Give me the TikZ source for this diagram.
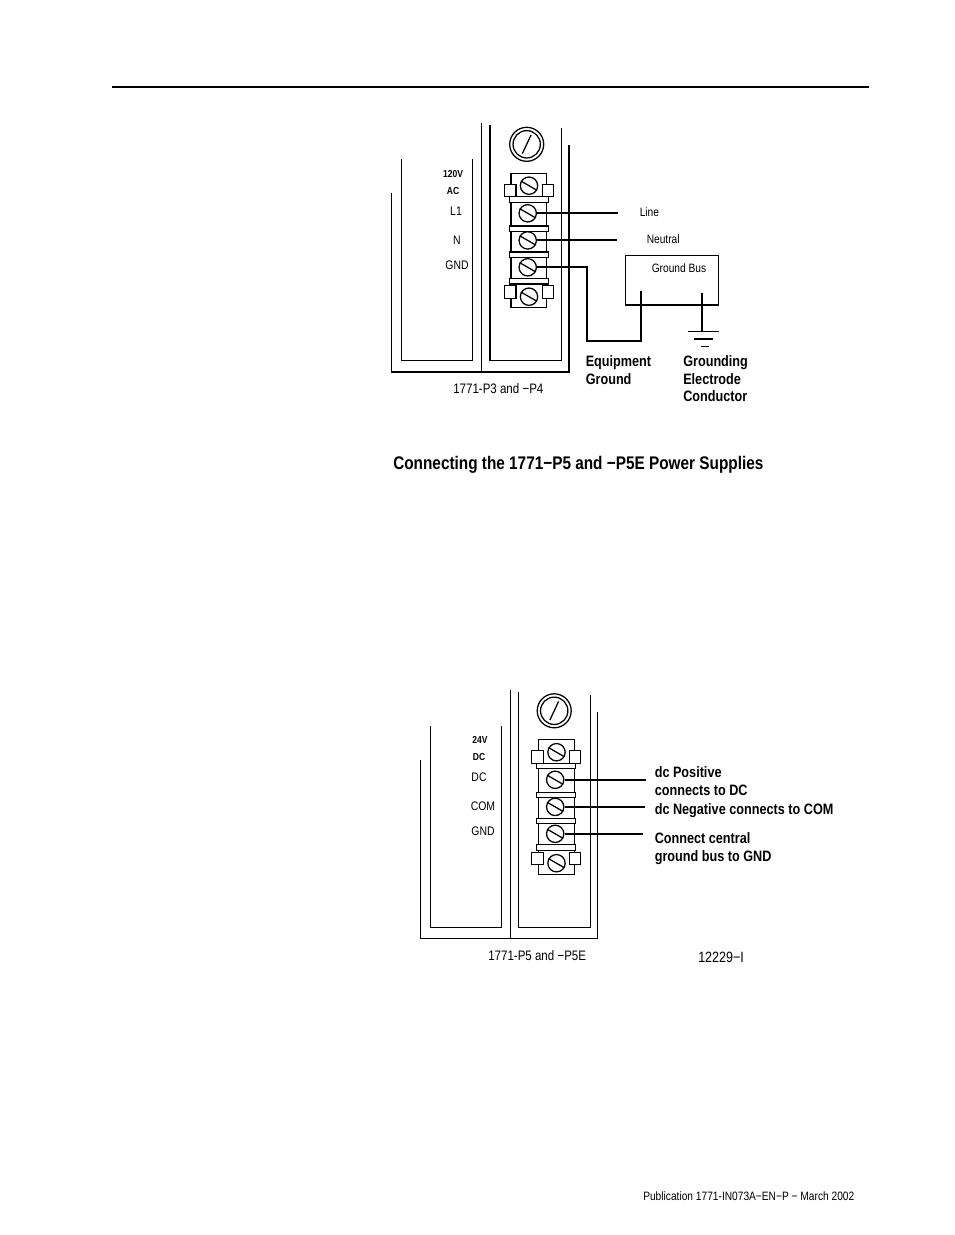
\documentclass[tikz,border=0pt]{standalone}
\usepackage{fontspec}
\setmainfont[FakeStretch=0.84]{Liberation Sans}
\usepackage{tikz}
\tikzset{
  frameline/.style={line width=0.95pt},
  wire/.style={line width=1.6pt},
  thinwire/.style={line width=1.3pt},
  screw/.style={circle,draw,line width=0.95pt,minimum size=13pt,inner sep=0pt},
  lbl/.style={anchor=west,inner sep=0pt,font=\fontsize{9.1}{11}\selectfont},
  lblc/.style={inner sep=0pt,font=\fontsize{9.3}{11}\selectfont},
  tiny/.style={inner sep=0pt,font=\bfseries\fontsize{7.6}{9}\selectfont},
  note/.style={anchor=north west,align=left,inner sep=0pt,font=\bfseries\fontsize{11.3}{13.1}\selectfont}
}
\begin{document}
\begin{tikzpicture}[x=0.75pt,y=-0.75pt]
\fill[white] (0,0) rectangle (954,1235);
\useasboundingbox (0,0) rectangle (954,1235);
\draw[line width=1.6pt] (112,87) -- (869,87);

% both supplies, second one is only shifted
\foreach \unit/\dx/\tx/\dy in {a/0/0/0,b/28.5/27.5/566.5}{
  \begin{scope}[shift={(\dx,\dy)}]
    \draw[frameline] (391.7,193) -- (391.7,372) -- (569,372) -- (569,145);
    \draw[frameline] (481.7,123) -- (481.7,372);
    \draw[frameline] (401.7,159) -- (401.7,360.7) -- (472.7,360.7) -- (472.7,159);
    \draw[frameline] (490,125) -- (490,360.7) -- (561.7,360.7) -- (561.7,128);
  \end{scope}
  \begin{scope}[shift={(\tx,\dy)}]
    % fuse
    \node[screw,minimum size=25.5pt] (\unit-fuse) at (526.7,144.3) {};
    \node[screw,minimum size=20.5pt] (\unit-cap) at (526.7,144.3) {};
    \draw[frameline,shorten <=3pt,shorten >=3pt] (\unit-cap.-115) -- (\unit-cap.65);
    % terminal strip
    \draw[frameline] (511,173.3) rectangle (546.7,307.7);
    \foreach \ya/\yb in {196.7/202.3,226/231.3,252/257.3,278.3/284}{
      \draw[frameline,fill=white] (509.3,\ya) rectangle (548.3,\yb);
    }
    \foreach \ya/\yb in {184.3/196.7,285.7/298.3}{
      \draw[frameline,fill=white] (504.3,\ya) rectangle (516,\yb);
      \draw[frameline,fill=white] (542.3,\ya) rectangle (553.3,\yb);
    }
    \foreach \s/\sx/\sy in {top/529/185.7,one/527.7/213.3,two/527.7/240.4,three/527.7/267.3,bot/529/296.7}{
      \node[screw,fill=white] (\unit-\s) at (\sx,\sy) {};
      \draw[frameline] (\unit-\s.150) -- (\unit-\s.-30);
    }
  \end{scope}
}

% wiring of the first supply
\coordinate (lineend) at (617.7,213.3);
\coordinate (neutralend) at (617,240.4);
\coordinate (eqa) at (586.7,267.3);
\coordinate (eqb) at (586.7,340.7);
\coordinate (eqc) at (640.7,340.7);
\coordinate (eqd) at (640.7,291);
\coordinate (gndtop) at (701.7,292.7);
\coordinate (gndbar) at (701.7,331.7);
\draw[wire] (a-one.east) -- (lineend);
\draw[wire] (a-two.east) -- (neutralend);
\draw[thinwire] (a-three.east) -- (eqa) -- (eqb) -- (eqc) -- (eqd);
\node[draw,frameline,minimum width=69.4pt,minimum height=37pt,inner sep=0pt] (bus) at (672,280.3) {};
\draw[thinwire] (gndtop) -- (gndbar);
\draw[frameline] (688.3,331.7) -- (719.3,331.7);
\draw[frameline] (694,339) -- (713,339);
\draw[frameline] (700.7,346.7) -- (709,346.7);

% wiring of the second supply
\coordinate (dcend) at (646,779.8);
\coordinate (comend) at (644.7,806.9);
\coordinate (gndend) at (642.7,833.8);
\draw[thinwire] (b-one.east) -- (dcend);
\draw[thinwire] (b-two.east) -- (comend);
\draw[thinwire] (b-three.east) -- (gndend);

% labels
\node[tiny] (volta) at (453,174) {120V};
\node[tiny] (acl) at (453,191) {AC};
\node[lblc] (lone) at (456,211) {L1};
\node[lblc] (nl) at (457,240) {N};
\node[lblc] (gnda) at (457,265) {GND};
\node[lbl] (linel) at (639.5,212) {Line};
\node[lbl] (neutrall) at (646.5,239) {Neutral};
\node[lbl] (busl) at (651.5,268) {Ground Bus};
\node[lbl,font=\fontsize{10.3}{12}\selectfont] (parta) at (453,388.5) {1771-P3 and −P4};
\node[note] (eql) at (585.5,355.5) {Equipment\\Ground};
\node[note] (gecl) at (683,355.5) {Grounding\\Electrode\\Conductor};
\node[anchor=west,inner sep=0pt,font=\bfseries\fontsize{13.7}{16}\selectfont] (title) at (393,465) {Connecting the 1771−P5 and −P5E Power Supplies};
\node[tiny] (voltb) at (480,740) {24V};
\node[tiny] (dcl) at (479,757) {DC};
\node[lblc] (dcb) at (479,777) {DC};
\node[lblc] (comb) at (483,806) {COM};
\node[lblc] (gndb) at (483,831) {GND};
\node[lbl,font=\fontsize{10.3}{12}\selectfont] (partb) at (488,956) {1771-P5 and −P5E};
\node[lbl,font=\fontsize{11.2}{13}\selectfont] (figno) at (698,957) {12229−I};
\node[note] (dcn) at (654.5,766.5) {dc Positive\\connects to DC};
\node[note] (comn) at (654.5,803.5) {dc Negative connects to COM};
\node[note] (gndn) at (654.5,832.5) {Connect central\\ground bus to GND};
\node[lbl] (pub) at (643,1196) {Publication 1771-IN073A−EN−P − March 2002};
\end{tikzpicture}
\end{document}
